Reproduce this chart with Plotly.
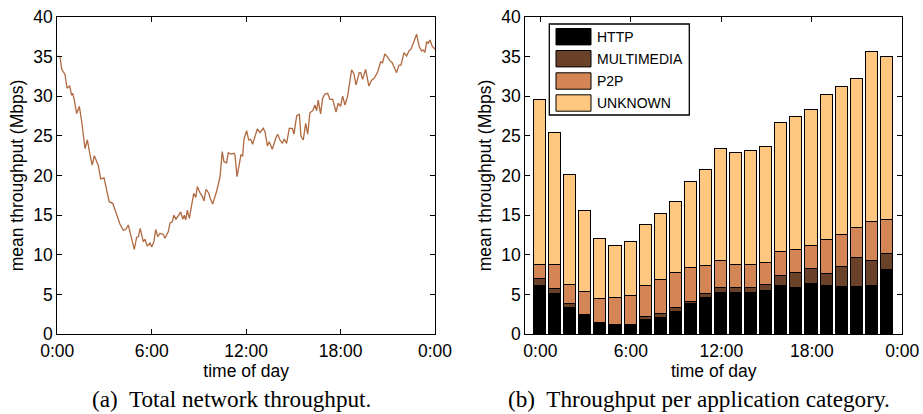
import plotly.graph_objects as go

W, H = 923, 414

# ---------------- data ----------------
line_hours = [0.03, 0.17, 0.28, 0.43, 0.49, 0.62, 0.79, 0.91, 0.98, 1.08, 1.23, 1.4, 1.55, 1.76, 1.91,
              2.08, 2.22, 2.35, 2.6, 2.76, 2.97, 3.18, 3.3, 3.52, 3.77, 3.98, 4.19, 4.35, 4.51, 4.68,
              4.89, 5.04, 5.15, 5.27, 5.46, 5.57, 5.72, 5.89, 6.0, 6.14, 6.25, 6.38, 6.52, 6.73, 6.84,
              7.05, 7.16, 7.31, 7.41, 7.54, 7.69, 7.84, 7.97, 8.07, 8.16, 8.26, 8.39, 8.52, 8.67, 8.8,
              8.9, 9.07, 9.21, 9.32, 9.45, 9.62, 9.72, 9.87, 10.02, 10.13, 10.34, 10.48, 10.59, 10.76,
              10.86, 11.04, 11.23, 11.29, 11.42, 11.54, 11.67, 11.78, 11.86, 12.03, 12.16, 12.29, 12.41,
              12.56, 12.71, 12.88, 13.09, 13.2, 13.35, 13.47, 13.66, 13.88, 14.0, 14.15, 14.3, 14.42,
              14.57, 14.74, 14.93, 15.04, 15.21, 15.38, 15.48, 15.63, 15.78, 15.91, 16.05, 16.23, 16.37,
              16.48, 16.58, 16.73, 16.86, 17.0, 17.18, 17.32, 17.5, 17.71, 17.85, 18.0, 18.13, 18.28,
              18.45, 18.7, 18.85, 18.98, 19.19, 19.28, 19.4, 19.59, 19.8, 19.97, 20.14, 20.36, 20.55,
              20.67, 20.81, 20.99, 21.13, 21.28, 21.4, 21.56, 21.71, 21.84, 22.03, 22.2, 22.35, 22.47,
              22.62, 22.83, 23.0, 23.15, 23.25, 23.36, 23.47, 23.57, 23.68, 23.82, 24.0]
line_mbps = [35.05, 34.96, 33.4, 32.9, 32.7, 31.0, 31.3, 30.1, 30.35, 29.5, 27.8, 28.7, 26.8, 23.4, 24.5,
             22.6, 21.3, 22.5, 21.3, 19.56, 19.7, 17.76, 16.7, 16.5, 15.0, 13.9, 13.1, 13.2, 13.77, 12.3,
             10.7, 12.2, 12.3, 13.35, 11.67, 11.97, 11.1, 11.5, 11.0, 11.67, 13.2, 12.3, 12.7, 12.6, 12.1,
             12.9, 14.0, 14.2, 15.0, 14.5, 15.0, 15.4, 14.5, 15.0, 14.4, 15.65, 14.6, 15.95, 17.76, 17.25,
             18.6, 17.8, 17.4, 16.8, 18.26, 17.8, 17.1, 16.4, 17.25, 18.05, 19.85, 23.0, 21.74, 21.6,
             22.87, 22.7, 22.8, 22.6, 19.85, 21.3, 22.6, 22.46, 24.56, 25.64, 24.47, 24.56, 23.93,
             24.89, 25.86, 25.4, 25.94, 25.5, 23.7, 24.26, 23.3, 24.68, 25.2, 24.47, 24.05, 24.6,
             24.05, 25.94, 25.94, 25.2, 27.5, 27.75, 24.97, 24.47, 26.57, 25.2, 27.9, 28.16, 28.88,
             28.16, 29.5, 27.75, 29.7, 30.26, 30.35, 29.6, 29.6, 28.0, 29.1, 28.7, 30.0, 28.88,
             30.0, 33.3, 32.8, 31.4, 32.95, 32.95, 32.1, 33.37, 31.27, 32.0, 32.24, 33.07, 34.33,
             34.2, 35.3, 34.9, 34.46, 34.2, 33.7, 32.95, 33.9, 33.9, 35.47, 35.05, 35.7, 35.9,
             36.65, 37.8, 36.2, 35.7, 35.8, 35.5, 36.85, 36.65, 37.06, 36.3, 35.9]

bar_hours = list(range(24))
categories = ["HTTP", "MULTIMEDIA", "P2P", "UNKNOWN"]
http = [6.1, 5.1, 3.3, 2.4, 1.35, 1.1, 1.1, 1.9, 2.1, 2.85, 3.8, 4.55, 5.3, 5.3, 5.3, 5.5,
        6.1, 5.9, 6.35, 6.1, 5.95, 6.0, 6.1, 8.1]
multimedia = [0.85, 0.68, 0.5, 0.1, 0.08, 0.05, 0.12, 0.32, 0.45, 0.5, 0.3, 0.57, 0.62, 0.55, 0.55, 0.7,
              1.3, 1.85, 1.85, 1.55, 2.55, 3.6, 3.15, 2.05]
p2p = [1.87, 3.02, 2.5, 2.87, 3.1, 3.5, 3.65, 3.86, 4.38, 4.4, 4.34, 3.57, 3.35, 2.95, 2.95, 2.87,
       3.05, 2.85, 2.9, 4.3, 4.1, 3.85, 4.9, 4.25]
unknown = [20.7, 16.6, 13.8, 10.2, 7.45, 6.55, 6.8, 7.7, 8.3, 8.95, 10.8, 12.05, 14.05, 14.1, 14.3, 14.55,
           16.2, 16.8, 17.2, 18.2, 18.6, 18.8, 21.45, 20.5]
series = [http, multimedia, p2p, unknown]

tick_hours = [0, 6, 12, 18, 24]
tick_labels = ["0:00", "6:00", "12:00", "18:00", "0:00"]
y_ticks = [0, 5, 10, 15, 20, 25, 30, 35, 40]

captions = ["(a)\u00a0 Total network throughput.", "(b)\u00a0 Throughput per application category."]

# ---------------- style ----------------
colors = ["#000000", "#6A422A", "#D48555", "#FFC77F"]
line_color = "#B0693F"
SANS = "Liberation Sans, Arial, Helvetica, sans-serif"
SERIF = "Liberation Serif, Times New Roman, serif"


def px(x):
    return x / W


def py(y):
    return 1 - y / H


fig = go.Figure()

fig.add_trace(go.Scatter(x=line_hours, y=line_mbps, mode="lines",
                         line=dict(color=line_color, width=1.3),
                         xaxis="x", yaxis="y", showlegend=False))

for name, vals, col in zip(categories, series, colors):
    fig.add_trace(go.Bar(x=bar_hours, y=vals, name=name, width=0.8,
                         marker=dict(color=col, line=dict(color="black", width=1)),
                         xaxis="x2", yaxis="y2", showlegend=False))

axis_common = dict(showline=True, linecolor="black", linewidth=1.3, mirror="ticks",
                   ticks="inside", ticklen=5, tickcolor="black", tickwidth=1,
                   showgrid=False, zeroline=False, automargin=False,
                   tickfont=dict(family=SANS, size=17.5, color="black"))
title_font = dict(family=SANS, size=17.5, color="black")

xdom1 = [px(57.3), px(435)]
xdom2 = [px(525.3), px(902.3)]
ydom = [py(334.3), py(16.7)]

fig.update_layout(
    width=W, height=H,
    margin=dict(l=0, r=0, t=0, b=0, autoexpand=False),
    paper_bgcolor="white", plot_bgcolor="white",
    barmode="stack", bargap=0,
    xaxis=dict(domain=xdom1, range=[0, 24], tickvals=tick_hours, ticktext=tick_labels,
               ticklabelstandoff=1,
               title=dict(text="time of day", font=title_font, standoff=0),
               anchor="y", **axis_common),
    yaxis=dict(domain=ydom, range=[0, 40], tickvals=y_ticks,
               title=dict(text="mean throughput (Mbps)", font=title_font, standoff=5),
               anchor="x", **axis_common),
    xaxis2=dict(domain=xdom2, range=[-1, 24], tickvals=tick_hours, ticktext=tick_labels,
                ticklabelstandoff=1,
                title=dict(text="time of day", font=title_font, standoff=0),
                anchor="y2", **axis_common),
    yaxis2=dict(domain=ydom, range=[0, 40], tickvals=y_ticks,
                title=dict(text="mean throughput (Mbps)", font=title_font, standoff=5),
                anchor="x2", **axis_common),
)

# captions
fig.add_annotation(x=px(232), y=py(399), xref="paper", yref="paper", text=captions[0], showarrow=False,
                   xanchor="center", yanchor="middle", font=dict(family=SERIF, size=23.2, color="black"))
fig.add_annotation(x=px(699), y=py(399), xref="paper", yref="paper", text=captions[1], showarrow=False,
                   xanchor="center", yanchor="middle", font=dict(family=SERIF, size=23.2, color="black"))

# legend (drawn box)
fig.add_shape(type="rect", xref="paper", yref="paper", x0=px(549.3), x1=px(689.3), y0=py(115), y1=py(24),
              line=dict(color="black", width=1.3), fillcolor="white", layer="above")
row_centers = [36.7, 58.7, 81, 103]
for name, col, yc in zip(categories, colors, row_centers):
    fig.add_shape(type="rect", xref="paper", yref="paper", x0=px(556), x1=px(591),
                  y0=py(yc + 8.2), y1=py(yc - 8.2), line=dict(color="black", width=1),
                  fillcolor=col, layer="above")
    fig.add_annotation(x=px(594.5), y=py(yc), xref="paper", yref="paper", text=name, showarrow=False,
                       xanchor="left", yanchor="middle", font=dict(family=SANS, size=14, color="black"))

fig.write_html("out.html")
